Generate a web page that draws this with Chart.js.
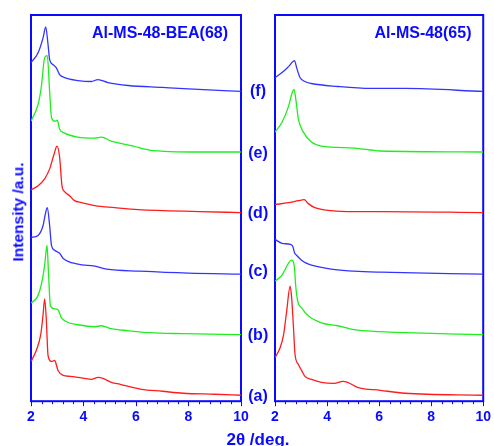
<!DOCTYPE html>
<html>
<head>
<meta charset="utf-8">
<script src="https://cdn.jsdelivr.net/npm/chart.js@4.4.1/dist/chart.umd.min.js"></script>
<style>
  body { margin: 0; background: #fff; }
  #wrap { position: relative; width: 494px; height: 446px; font-family: "Liberation Sans", Arial, sans-serif; }
  #wrap canvas { position: absolute; left: 0; top: 0; }
  .txt { position: absolute; color: #0a0aff; font-weight: bold; white-space: nowrap; line-height: 1; }
  .lbl { font-size: 16px; transform: translate(-50%, -50%); }
</style>
</head>
<body>
<div id="wrap">
  <canvas id="leftChart" width="494" height="446"></canvas>
  <canvas id="rightChart" width="494" height="446"></canvas>
  <div class="txt lbl" style="left:160px; top:33px;">Al-MS-48-BEA(68)</div>
  <div class="txt lbl" style="left:423px; top:33px;">Al-MS-48(65)</div>
  <div class="txt lbl" style="left:258px; top:91px;">(f)</div>
  <div class="txt lbl" style="left:258px; top:153px;">(e)</div>
  <div class="txt lbl" style="left:258px; top:213px;">(d)</div>
  <div class="txt lbl" style="left:258px; top:271px;">(c)</div>
  <div class="txt lbl" style="left:258px; top:335px;">(b)</div>
  <div class="txt lbl" style="left:258px; top:396px;">(a)</div>
  <div class="txt lbl" style="left:258px; top:439px; font-size:17px;">2θ /deg.</div>
  <div class="txt lbl" style="left:18px; top:212px; font-size:15.5px; transform: translate(-50%, -50%) rotate(-90deg);">Intensity /a.u.</div>
</div>
<script>
// 2theta (deg) and intensity (arbitrary, stacked offsets) for each pattern

// Al-MS-48-BEA(68)
const leftA_x = [2.0, 2.2, 2.37, 2.46, 2.52, 2.58, 2.65, 2.78, 2.9, 3.03, 3.22, 3.5, 3.79, 4.3, 4.55, 4.74, 5.06, 5.4, 5.7, 6.2, 7.0, 7.8, 9.0, 10];
const leftA_y = [40, 51, 67, 87, 103, 84, 46, 40, 41, 31, 26, 25, 24, 22, 24, 23, 19, 17, 15, 12, 10, 8, 7, 6];
const leftB_x = [2.0, 2.22, 2.34, 2.45, 2.52, 2.58, 2.61, 2.67, 2.74, 2.9, 3.03, 3.16, 3.35, 3.79, 4.43, 4.68, 5.06, 5.7, 6.5, 7.8, 10];
const leftB_y = [99, 104, 112, 125, 137, 152, 157, 127, 96, 93, 92, 84, 80, 77, 75, 76, 73, 71, 69, 68, 67];
const leftC_x = [2.0, 2.27, 2.46, 2.55, 2.62, 2.71, 2.78, 2.9, 3.09, 3.22, 3.79, 4.43, 4.88, 6.15, 8.0, 10];
const leftC_y = [165, 167, 177, 189, 195, 177, 157, 152, 149, 144, 138, 136, 133, 131, 129, 128];
const leftD_x = [2.0, 2.27, 2.52, 2.71, 2.88, 2.99, 3.09, 3.18, 3.28, 3.47, 3.66, 3.92, 4.43, 5.19, 6.08, 8.4, 10];
const leftD_y = [213, 217, 224, 234, 249, 257, 246, 217, 211, 207, 202, 200, 197, 195, 193, 191, 190];
const leftE_x = [2.0, 2.27, 2.39, 2.52, 2.62, 2.71, 2.78, 2.9, 3.0, 3.09, 3.28, 3.79, 4.43, 4.68, 5.06, 5.9, 6.5, 8.4, 10];
const leftE_y = [282, 299, 316, 346, 348, 312, 286, 282, 283, 274, 270, 266, 265, 266, 262, 257, 253, 251, 251];
const leftF_x = [2.0, 2.27, 2.46, 2.56, 2.65, 2.71, 2.84, 2.96, 3.09, 3.28, 3.79, 4.3, 4.55, 4.93, 5.7, 7.0, 8.0, 10];
const leftF_y = [341, 351, 366, 377, 359, 344, 339, 336, 329, 326, 323, 322, 324, 321, 318, 316, 314.5, 312];

// Al-MS-48(65)
const rightA_x = [2.0, 2.2, 2.33, 2.45, 2.58, 2.64, 2.71, 2.77, 2.9, 3.02, 3.15, 3.4, 3.78, 4.28, 4.6, 4.79, 5.17, 6.05, 7.0, 10];
const rightA_y = [44, 54, 67, 91, 116, 104, 74, 47, 37, 31, 25, 22, 19, 18, 20, 19, 14, 11, 8, 6];
const rightB_x = [2.0, 2.27, 2.52, 2.64, 2.75, 2.79, 2.87, 3.02, 3.28, 3.78, 4.41, 5.04, 6.05, 7.0, 10];
const rightB_y = [121, 127, 139, 142, 134, 118, 101, 94, 86, 79, 76, 72, 70, 69, 67];
const rightC_x = [2.0, 2.27, 2.58, 2.68, 2.76, 2.83, 3.02, 3.2, 3.4, 4.16, 5.04, 6.05, 10];
const rightC_y = [163, 159, 158, 156, 149, 147, 142, 139, 137, 133, 131, 130, 128];
const rightD_x = [2.0, 2.52, 2.9, 3.12, 3.28, 3.53, 4.16, 5.04, 6.05, 10];
const rightD_y = [198, 200, 202, 203, 199, 195, 192, 191, 191, 190];
const rightE_x = [2.0, 2.27, 2.52, 2.64, 2.73, 2.8, 2.9, 3.09, 3.4, 3.78, 5.04, 6.05, 10];
const rightE_y = [271, 281, 297, 309, 314, 304, 284, 271, 261, 257, 255, 252, 251];
const rightF_x = [2.0, 2.27, 2.52, 2.75, 2.83, 2.96, 3.15, 3.4, 4.41, 5.67, 7.0, 10];
const rightF_y = [326, 331, 337, 343, 336, 326, 322, 320, 317, 315, 315, 312];

const xTicks = [2, 4, 6, 8, 10];

const AXIS_BLUE = '#0a0aff';
const RED = '#ff1c1c';
const GREEN = '#1eee1e';
const BLUE = '#3434ff';

function toPoints(xs, ys) {
    return xs.map((x, i) => ({ x: x, y: ys[i] }));
}

function trace(xs, ys, color) {
    return {
        data: toPoints(xs, ys),
        borderColor: color,
        borderWidth: 1.3,
        pointRadius: 0,
        fill: false,
        cubicInterpolationMode: 'monotone'
    };
}

// box round the plot area and the small minor ticks every 0.4 deg
const framePlugin = {
    id: 'frame',
    beforeDatasetsDraw(chart) {
        const ctx = chart.ctx;
        const area = chart.chartArea;
        const xScale = chart.scales.x;
        ctx.save();
        ctx.strokeStyle = AXIS_BLUE;
        ctx.lineWidth = 2;
        ctx.strokeRect(area.left, area.top, area.right - area.left, area.bottom - area.top);
        ctx.lineWidth = 1;
        for (let i = 0; i <= 20; i++) {
            if (i % 5 === 0) continue;
            const px = Math.round(xScale.getPixelForValue(2 + i * 0.4)) + 0.5;
            ctx.beginPath();
            ctx.moveTo(px, area.bottom);
            ctx.lineTo(px, area.bottom + 3);
            ctx.stroke();
        }
        ctx.restore();
    }
};

function makeChart(id, datasets, padLeft, padRight) {
    const ctx = document.getElementById(id).getContext('2d');
    return new Chart(ctx, {
        type: 'line',
        data: { datasets: datasets },
        options: {
            responsive: false,
            animation: false,
            devicePixelRatio: 1,
            layout: { padding: { left: padLeft, right: padRight, top: 15, bottom: 17 } },
            plugins: { legend: { display: false }, tooltip: { enabled: false } },
            scales: {
                x: {
                    type: 'linear',
                    min: 2,
                    max: 10,
                    afterBuildTicks: function(scale) {
                        scale.ticks = xTicks.map(v => ({ value: v }));
                    },
                    ticks: {
                        color: AXIS_BLUE,
                        font: { family: '"Liberation Sans", Arial, sans-serif', size: 14, weight: 'bold' },
                        padding: 3,
                        maxRotation: 0,
                        autoSkip: false
                    },
                    grid: {
                        drawOnChartArea: false,
                        color: AXIS_BLUE,
                        tickLength: 5,
                        tickWidth: 1
                    },
                    border: { display: false }
                },
                y: {
                    display: false,
                    min: 0,
                    max: 389
                }
            }
        },
        plugins: [framePlugin]
    });
}

makeChart('leftChart', [
    trace(leftA_x, leftA_y, RED),
    trace(leftB_x, leftB_y, GREEN),
    trace(leftC_x, leftC_y, BLUE),
    trace(leftD_x, leftD_y, RED),
    trace(leftE_x, leftE_y, GREEN),
    trace(leftF_x, leftF_y, BLUE)
], 31, 253);

makeChart('rightChart', [
    trace(rightA_x, rightA_y, RED),
    trace(rightB_x, rightB_y, GREEN),
    trace(rightC_x, rightC_y, BLUE),
    trace(rightD_x, rightD_y, RED),
    trace(rightE_x, rightE_y, GREEN),
    trace(rightF_x, rightF_y, BLUE)
], 275, 8);
</script>
</body>
</html>
